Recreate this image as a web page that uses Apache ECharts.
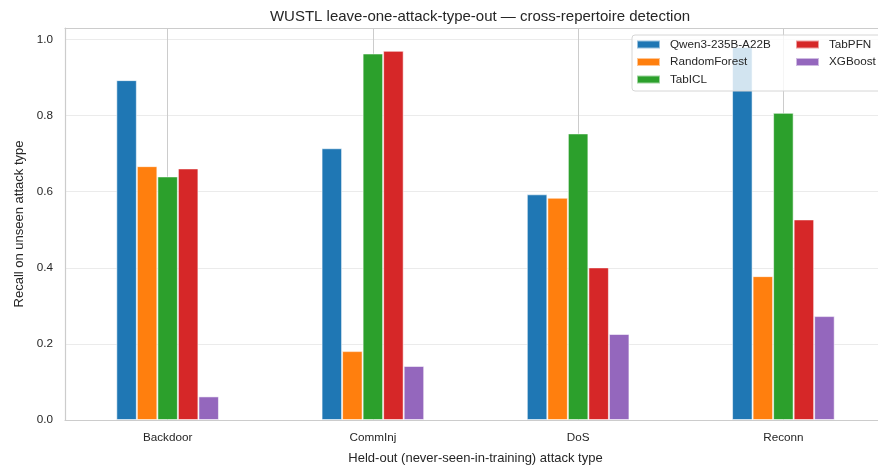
<!DOCTYPE html>
<html>
<head>
<meta charset="utf-8">
<script src="https://cdn.jsdelivr.net/npm/echarts@6/dist/echarts.min.js"></script>
<style>
  html, body { margin: 0; padding: 0; background: #ffffff; }
  #chart { width: 878px; height: 468px; }
</style>
</head>
<body>
<div id="chart"></div>
<script>
// Held-out attack types
var categories = ['Backdoor', 'CommInj', 'DoS', 'Reconn'];

// Recall on the unseen attack type, per model
var qwen = [0.893, 0.714, 0.593, 0.980];
var randomForest = [0.667, 0.181, 0.584, 0.378];
var tabICL = [0.640, 0.963, 0.753, 0.807];
var tabPFN = [0.661, 0.970, 0.401, 0.527];
var xgBoost = [0.062, 0.142, 0.226, 0.273];

var modelNames = ['Qwen3-235B-A22B', 'RandomForest', 'TabICL', 'TabPFN', 'XGBoost'];
var modelValues = [qwen, randomForest, tabICL, tabPFN, xgBoost];
var modelColors = ['#1f77b4', '#ff7f0e', '#2ca02c', '#d62728', '#9467bd'];

// Y ticks
var yTicks = [0, 0.2, 0.4, 0.6, 0.8, 1.0];

var FONT = '"Liberation Sans", Arial, sans-serif';
var TEXT = '#262626';

var chart = echarts.init(document.getElementById('chart'), null, { renderer: 'canvas' });

var series = modelNames.map(function (name, i) {
  return {
    name: name,
    type: 'bar',
    xAxisIndex: 0,
    yAxisIndex: 0,
    data: modelValues[i],
    barWidth: '10%',
    barGap: '0%',
    itemStyle: {
      color: modelColors[i],
      borderColor: 'rgba(255,255,255,0.55)',
      borderWidth: 1
    },
    emphasis: { disabled: true },
    z: 2
  };
});

var legendText = {
  fontFamily: FONT,
  fontSize: 11.7,
  color: TEXT,
  lineHeight: 12,
  padding: [0, 0, 0, 5]
};

chart.setOption({
  animation: false,
  backgroundColor: '#ffffff',
  title: {
    text: 'WUSTL leave-one-attack-type-out \u2014 cross-repertoire detection',
    left: 475,
    textAlign: 'center',
    top: 4,
    textStyle: { fontFamily: FONT, fontSize: 15, fontWeight: 'normal', color: TEXT }
  },
  // plot area runs a little past the right edge of the canvas
  grid: { left: 65, top: 28, width: 821, height: 392, outerBoundsMode: 'none', containLabel: false },
  xAxis: [
    {
      type: 'category',
      data: categories,
      position: 'bottom',
      boundaryGap: true,
      name: 'Held-out (never-seen-in-training) attack type',
      nameLocation: 'middle',
      nameGap: 32,
      nameTextStyle: { fontFamily: FONT, fontSize: 13, color: TEXT },
      axisLine: { show: true, lineStyle: { color: '#cccccc', width: 1.2 } },
      axisTick: { show: false },
      axisLabel: { fontFamily: FONT, fontSize: 11.7, color: TEXT, margin: 12 },
      splitLine: { show: false }
    },
    {
      // half-category steps: every odd line sits on a category centre
      type: 'value',
      position: 'top',
      min: 0,
      max: 2 * categories.length,
      interval: 1,
      axisLine: { show: true, lineStyle: { color: '#cccccc', width: 1.2 } },
      axisTick: { show: false },
      axisLabel: { show: false },
      splitLine: { show: true, lineStyle: { color: ['rgba(0,0,0,0)', '#cccccc'], width: 1 } }
    }
  ],
  yAxis: {
    type: 'value',
    min: 0,
    max: 1.03,
    interval: 0.2,
    name: 'Recall on unseen attack type',
    nameLocation: 'middle',
    nameGap: 36,
    nameTextStyle: { fontFamily: FONT, fontSize: 13, color: TEXT },
    axisLine: { show: true, lineStyle: { color: '#cccccc', width: 1.2 } },
    axisTick: { show: false },
    axisLabel: {
      fontFamily: FONT, fontSize: 11.7, color: TEXT, margin: 12,
      showMaxLabel: false,
      formatter: function (v) { return yTicks.indexOf(Math.round(v * 10) / 10) >= 0 ? v.toFixed(1) : ''; }
    },
    splitLine: { show: true, lineStyle: { color: '#ebebeb', width: 1 } }
  },
  graphic: [
    {
      type: 'rect',
      z: 3,
      shape: { x: 632, y: 35, width: 260, height: 56, r: 3 },
      style: { fill: 'rgba(255,255,255,0.8)', stroke: '#d6d6d6', lineWidth: 1 },
      silent: true
    }
  ],
  legend: [
    {
      data: modelNames.slice(0, 3),
      orient: 'vertical',
      left: 636,
      top: 38.5,
      padding: 0,
      itemWidth: 23,
      itemHeight: 8,
      itemGap: 5.5,
      icon: 'rect',
      textStyle: legendText,
      selectedMode: false,
      z: 5
    },
    {
      data: modelNames.slice(3),
      orient: 'vertical',
      left: 795,
      top: 38.5,
      padding: 0,
      itemWidth: 23,
      itemHeight: 8,
      itemGap: 5.5,
      icon: 'rect',
      textStyle: legendText,
      selectedMode: false,
      z: 5
    }
  ],
  series: series
});
</script>
</body>
</html>
